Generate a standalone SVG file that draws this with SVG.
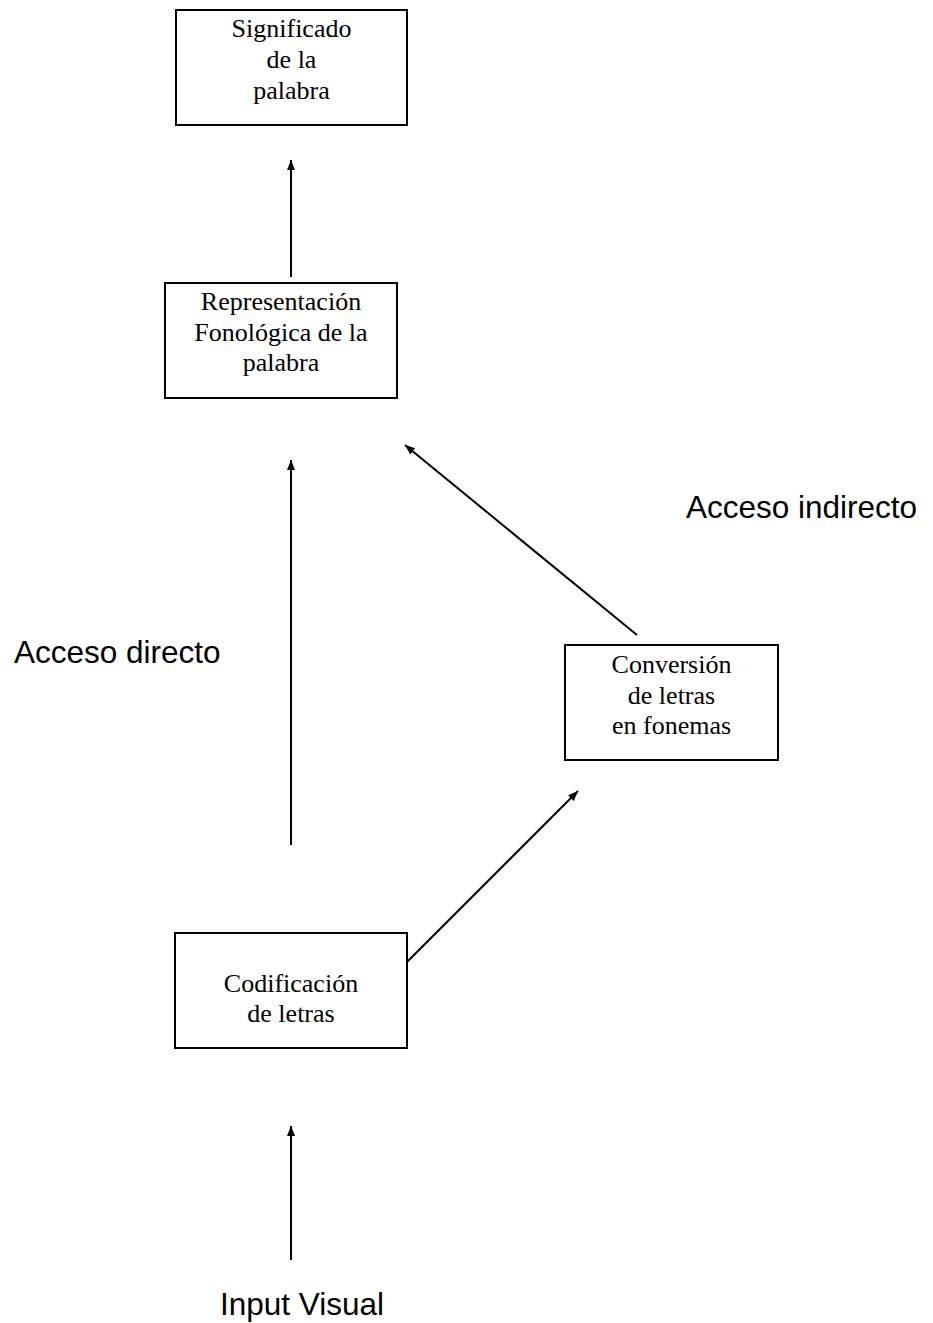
<svg xmlns="http://www.w3.org/2000/svg" width="933" height="1323" viewBox="0 0 933 1323">
<defs>
<style>
.box{fill:#fff;stroke:#000;stroke-width:2}
.t{font-family:"Liberation Serif","Times New Roman",serif;font-size:26px;fill:#000;text-anchor:middle}
.s{font-family:"Liberation Sans",Arial,sans-serif;font-size:31.5px;fill:#000}
.c{stroke:#000;stroke-width:2;fill:none;marker-end:url(#ah)}
</style>
<marker id="ah" markerUnits="userSpaceOnUse" markerWidth="12" markerHeight="10" refX="10" refY="4" orient="auto">
<path d="M0,0 L10,4 L0,8 Z" fill="#000"/>
</marker>
</defs>
<rect width="933" height="1323" fill="#fff"/>
<g id="connectors">
<line class="c" x1="291" y1="277" x2="291" y2="160"/>
<line class="c" x1="291" y1="845" x2="291" y2="460"/>
<line class="c" x1="637" y1="635" x2="405" y2="445"/>
<line class="c" x1="406" y1="963" x2="578" y2="791"/>
<line class="c" x1="291" y1="1260" x2="291" y2="1126"/>
</g>
<g id="significado">
<rect class="box" x="176" y="10" width="231" height="115"/>
<text class="t" x="291.5" y="37">Significado</text>
<text class="t" x="291.5" y="68">de la</text>
<text class="t" x="291.5" y="99">palabra</text>
</g>
<g id="representacion">
<rect class="box" x="165" y="283" width="232" height="115"/>
<text class="t" x="281" y="310">Representación</text>
<text class="t" x="281" y="341">Fonológica de la</text>
<text class="t" x="281" y="371">palabra</text>
</g>
<g id="conversion">
<rect class="box" x="565" y="645" width="213" height="115"/>
<text class="t" x="671.5" y="673">Conversión</text>
<text class="t" x="671.5" y="704">de letras</text>
<text class="t" x="671.5" y="734">en fonemas</text>
</g>
<g id="codificacion">
<rect class="box" x="175" y="933" width="232" height="115"/>
<text class="t" x="291" y="992">Codificación</text>
<text class="t" x="291" y="1022">de letras</text>
</g>
<g id="labels">
<text class="s" x="686" y="518">Acceso indirecto</text>
<text class="s" x="14" y="663">Acceso directo</text>
<text class="s" x="220" y="1315">Input Visual</text>
</g>
</svg>
